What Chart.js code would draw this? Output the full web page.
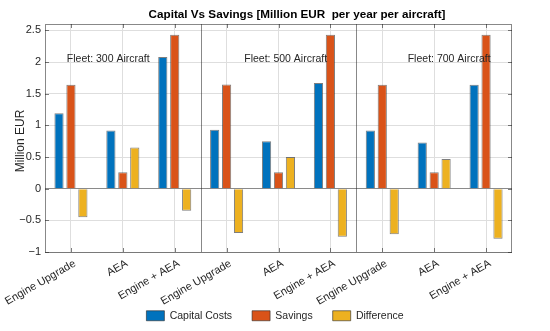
<!DOCTYPE html>
<html>
<head>
<meta charset="utf-8">
<script src="https://cdn.jsdelivr.net/npm/chart.js@4.4.1/dist/chart.umd.min.js"></script>
<style>
  body { margin: 0; background: #fff; }
  #wrap { width: 550px; height: 331px; }
</style>
</head>
<body>
<div id="wrap"><canvas id="chart"></canvas></div>
<script>
const categories = ['Engine Upgrade', 'AEA', 'Engine + AEA',
                    'Engine Upgrade', 'AEA', 'Engine + AEA',
                    'Engine Upgrade', 'AEA', 'Engine + AEA'];
const capitalCosts = [1.19, 0.92, 2.08, 0.93, 0.75, 1.67, 0.92, 0.73, 1.64];
const savings      = [1.64, 0.26, 2.43, 1.645, 0.26, 2.43, 1.64, 0.26, 2.43];
const difference   = [-0.45, 0.65, -0.35, -0.70, 0.50, -0.76, -0.72, 0.47, -0.79];

const fleetLabels = ['Fleet: 300 Aircraft', 'Fleet: 500 Aircraft', 'Fleet: 700 Aircraft'];
const fleetLabelX = [-0.08, 3.34, 6.49];   // in category units
const fleetLabelY = 2.04;
const groupBreaks = [2.5, 5.5];

const FONT = '"Liberation Sans", Arial, Helvetica, sans-serif';
const TEXT = '#262626';

// box, inner ticks, separators, annotations, titles
const decorations = {
  id: 'decorations',
  afterLayout(chart) {
    // let the rotated tick labels run into the legend band without being clipped
    chart.scales.x.bottom = chart.height;
  },
  afterDatasetsDraw(chart) {
    const { ctx, chartArea: a, scales: { x, y } } = chart;
    ctx.save();
    ctx.lineWidth = 1;

    ctx.strokeStyle = 'rgba(38,38,38,0.55)';
    groupBreaks.forEach(b => {
      const px = Math.round(x.getPixelForValue(b)) + 0.5;
      ctx.beginPath();
      ctx.moveTo(px, a.top);
      ctx.lineTo(px, a.bottom);
      ctx.stroke();
    });

    // inner tick marks like matlab
    ctx.strokeStyle = 'rgba(38,38,38,0.6)';
    ctx.beginPath();
    x.ticks.forEach((t, i) => {
      const px = Math.round(x.getPixelForTick(i)) + 0.5;
      ctx.moveTo(px, a.bottom); ctx.lineTo(px, a.bottom - 4);
      ctx.moveTo(px, a.top); ctx.lineTo(px, a.top + 4);
    });
    y.ticks.forEach(t => {
      const py = Math.round(y.getPixelForValue(t.value)) + 0.5;
      ctx.moveTo(a.left, py); ctx.lineTo(a.left + 4, py);
      ctx.moveTo(a.right, py); ctx.lineTo(a.right - 4, py);
    });
    ctx.stroke();

    ctx.strokeStyle = 'rgba(38,38,38,0.55)';
    ctx.strokeRect(Math.round(a.left) + 0.5, Math.round(a.top) + 0.5,
                   Math.round(a.right - a.left) - 1, Math.round(a.bottom - a.top));

    // fleet annotations
    ctx.fillStyle = TEXT;
    ctx.font = '10.5px ' + FONT;
    ctx.textAlign = 'left';
    ctx.textBaseline = 'middle';
    fleetLabels.forEach((txt, i) => {
      ctx.fillText(txt, x.getPixelForValue(fleetLabelX[i]), y.getPixelForValue(fleetLabelY));
    });

    // title
    ctx.fillStyle = '#000';
    ctx.font = 'bold 11.7px ' + FONT;
    ctx.textAlign = 'center';
    ctx.fillText('Capital Vs Savings [Million EUR  per year per aircraft]', 297, 15);

    // y axis label
    ctx.fillStyle = TEXT;
    ctx.font = '12px ' + FONT;
    ctx.translate(21, 141);
    ctx.rotate(-Math.PI / 2);
    ctx.fillText('Million EUR', 0, 0);
    ctx.restore();
  }
};

const common = {
  borderWidth: 1,
  borderColor: 'rgba(40,40,40,0.6)',
  categoryPercentage: 0.69,
  barPercentage: 0.77
};

new Chart(document.getElementById('chart'), {
  type: 'bar',
  data: {
    labels: categories,
    datasets: [
      { ...common, label: 'Capital Costs', data: capitalCosts, backgroundColor: '#0072BD' },
      { ...common, label: 'Savings', data: savings, backgroundColor: '#D95319' },
      { ...common, label: 'Difference', data: difference, backgroundColor: '#EDB120' }
    ]
  },
  options: {
    responsive: true,
    maintainAspectRatio: false,
    animation: false,
    layout: { padding: { top: 24, left: 0, right: 0, bottom: 0 } },
    plugins: {
      title: { display: false },
      tooltip: { enabled: false },
      legend: {
        position: 'bottom',
        labels: {
          boxWidth: 18,
          boxHeight: 10,
          padding: 20,
          color: TEXT,
          font: { family: FONT, size: 10.5 }
        }
      }
    },
    scales: {
      x: {
        offset: true,
        grid: { offset: false, color: '#dedede', drawTicks: false },
        border: { display: false },
        ticks: {
          color: TEXT,
          font: { family: FONT, size: 11 },
          minRotation: 30,
          maxRotation: 30,
          autoSkip: false,
          padding: 5,
          labelOffset: 4
        },
        afterFit: s => { s.height = 38.5; s.paddingLeft = 0; s.paddingRight = 0; }
      },
      y: {
        min: -1,
        max: 2.6,
        grid: {
          color: c => (c.tick && c.tick.value === 0) ? '#8a8a8a' : '#dedede',
          drawTicks: false
        },
        border: { display: false },
        ticks: {
          stepSize: 0.5,
          includeBounds: false,
          padding: 4,
          color: TEXT,
          font: { family: FONT, size: 11 },
          callback: v => String(v).replace('-', '\u2212')
        },
        afterFit: s => { s.width = 45; }
      },
      yRight: {
        position: 'right',
        display: true,
        grid: { display: false, drawTicks: false },
        border: { display: false },
        ticks: { display: false },
        afterFit: s => { s.width = 38; }
      }
    }
  },
  plugins: [decorations]
});
</script>
</body>
</html>
